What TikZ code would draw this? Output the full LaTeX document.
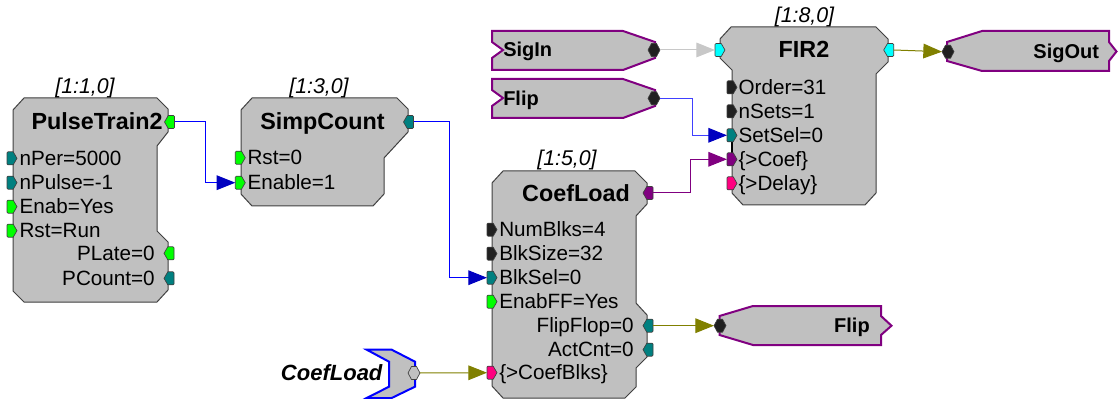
\documentclass[tikz,border=0pt]{standalone}
\usepackage{fontspec}
\setmainfont{Liberation Sans}
\usetikzlibrary{arrows.meta}
\definecolor{blockgray}{HTML}{C0C0C0}
\definecolor{edgec}{HTML}{404040}
\definecolor{pgreen}{HTML}{00FF00}
\definecolor{pteal}{HTML}{008080}
\definecolor{pblack}{HTML}{202020}
\definecolor{pcyan}{HTML}{00FFFF}
\definecolor{ppurple}{HTML}{800080}
\definecolor{ppink}{HTML}{FF0080}
\definecolor{wblue}{HTML}{0000FF}
\definecolor{ablue}{HTML}{0000C0}
\definecolor{wlblue}{HTML}{4040FF}
\definecolor{wolive}{HTML}{808000}
\definecolor{wgray}{HTML}{C8C8C8}
\tikzset{
 pin/.pic={\draw[pic actions,draw=edgec,line width=0.5pt,line join=miter] (-5,-5.5) -- (-4,-6.5) -- (1.2,-6.5) -- (5,0) -- (1.2,6.5) -- (-4,6.5) -- (-5,5.5) -- cycle;
   \coordinate (-w) at (-5,0); \coordinate (-e) at (5,0);},
 pout/.pic={\draw[pic actions,draw=edgec,line width=0.5pt,line join=miter] (5,-5.5) -- (4,-6.5) -- (-1.2,-6.5) -- (-5,0) -- (-1.2,6.5) -- (4,6.5) -- (5,5.5) -- cycle;
   \coordinate (-w) at (-5,0); \coordinate (-e) at (5,0);},
 pbi/.pic={\draw[pic actions,draw=edgec,line width=0.5pt,line join=miter] (-6,0) -- (-2.5,-6.5) -- (2.5,-6.5) -- (6,0) -- (2.5,6.5) -- (-2.5,6.5) -- cycle;
   \coordinate (-w) at (-6,0); \coordinate (-e) at (6,0);}
}
\begin{document}
\begin{tikzpicture}[x=0.75pt,y=-0.75pt,
 block/.style={fill=blockgray,draw=edgec,line width=0.75pt,line join=miter},
 tagbox/.style={fill=blockgray,draw=ppurple,line width=1.5pt},
 lbl/.style={font=\fontsize{15.5}{18}\selectfont,inner sep=0pt},
 lbll/.style={lbl,anchor=base west},
 lblr/.style={lbl,anchor=base east},
 ttl/.style={font=\fontsize{17.5}{20}\selectfont\bfseries,inner sep=0pt,anchor=base},
 idx/.style={font=\fontsize{16}{19}\selectfont\itshape,inner sep=0pt,anchor=base},
 tagtxt/.style={font=\fontsize{15}{18}\selectfont\bfseries,inner sep=0pt},
 wire/.style={line width=0.75pt},
 tip/.style={-{Triangle[length=14pt,width=11pt,color=#1]}}
]
\useasboundingbox (0,0) rectangle (1118,399);

% ---------------- PulseTrain2
\draw[block] (24,98) -- (157,98) -- (168,109) -- (168,132) -- (157,146) -- (157,231) -- (168,242) -- (168,290) -- (157,302) -- (24,302) -- (13,291) -- (13,110) -- cycle;
\node[idx] (pt-idx) at (85,93.5) {[1:1,0]};
\node[ttl] (pt-title) at (97,130) {PulseTrain2};
\pic[fill=pgreen] (pt-out) at (169.5,122) {pout};
\pic[fill=pteal] (pt-np) at (12,158.3) {pin};
\pic[fill=pteal] (pt-nu) at (12,182.7) {pin};
\pic[fill=pgreen] (pt-en) at (12,206.7) {pin};
\pic[fill=pgreen] (pt-rs) at (12,230.7) {pin};
\node[lbll] (pt-l1) at (19.3,165.3) {nPer=5000};
\node[lbll] (pt-l2) at (19.3,189.7) {nPulse=-1};
\node[lbll] (pt-l3) at (19.3,213.7) {Enab=Yes};
\node[lbll] (pt-l4) at (19.3,237.7) {Rst=Run};
\pic[fill=pgreen] (pt-pl) at (169,253.3) {pout};
\pic[fill=pteal] (pt-pc) at (169,278.3) {pout};
\node[lblr] (pt-l5) at (155,260.3) {PLate=0};
\node[lblr] (pt-l6) at (155,285.3) {PCount=0};

% ---------------- SimpCount
\draw[block] (252,98) -- (397,98) -- (408,109) -- (408,132) -- (384,158) -- (384,194) -- (373,206) -- (252,206) -- (241,194) -- (241,110) -- cycle;
\node[idx] (sc-idx) at (319,93.5) {[1:3,0]};
\node[ttl] (sc-title) at (322.5,130) {SimpCount};
\pic[fill=pteal] (sc-out) at (408.5,122) {pout};
\pic[fill=pgreen] (sc-rs) at (240.3,157.7) {pin};
\pic[fill=pgreen] (sc-en) at (240.3,182.7) {pin};
\node[lbll] (sc-l1) at (247.3,164.7) {Rst=0};
\node[lbll] (sc-l2) at (247.3,189.7) {Enable=1};

% ---------------- CoefLoad
\draw[block] (503,171) -- (635,171) -- (647,183) -- (647,204) -- (636,216) -- (636,303) -- (647,315) -- (647,357) -- (636,368) -- (636,387) -- (625,398) -- (503,398) -- (492,386) -- (492,183) -- cycle;
\node[idx] (cl-idx) at (567,166) {[1:5,0]};
\node[ttl] (cl-title) at (576,201.3) {CoefLoad};
\pic[fill=ppurple] (cl-out) at (648,193) {pout};
\pic[fill=pblack] (cl-nb) at (492,229.7) {pin};
\pic[fill=pblack] (cl-bz) at (492,253.7) {pin};
\pic[fill=pteal] (cl-bs) at (492,277.7) {pin};
\pic[fill=pgreen] (cl-ef) at (492,301.7) {pin};
\pic[fill=ppink] (cl-cb) at (492,372.7) {pin};
\node[lbll] (cl-l1) at (499,236.7) {NumBlks=4};
\node[lbll] (cl-l2) at (499,260.7) {BlkSize=32};
\node[lbll] (cl-l3) at (499,284.7) {BlkSel=0};
\node[lbll] (cl-l4) at (499,308.7) {EnabFF=Yes};
\node[lbll] (cl-l5) at (499,379.7) {\{>CoefBlks\}};
\pic[fill=pteal] (cl-ff) at (648,325.7) {pout};
\pic[fill=pteal] (cl-ac) at (648,349.7) {pout};
\node[lblr] (cl-l6) at (634,332.7) {FlipFlop=0};
\node[lblr] (cl-l7) at (634,356.7) {ActCnt=0};

% ---------------- FIR2
\draw[block] (731,27) -- (876,27) -- (888,39) -- (888,62) -- (876,74) -- (876,193) -- (865,205) -- (743,205) -- (732,193) -- (732,70) -- (720,58) -- (720,39) -- cycle;
\draw[line width=1.5pt,black] (732,142) -- (732,153);
\node[idx] (fir-idx) at (804.5,22.7) {[1:8,0]};
\node[ttl] (fir-title) at (804,58) {FIR2};
\pic[fill=pcyan] (fir-in) at (720,50) {pin};
\pic[fill=pcyan] (fir-out) at (888.7,50) {pout};
\pic[fill=pblack] (fir-or) at (732,87.3) {pin};
\pic[fill=pblack] (fir-ns) at (732,111.3) {pin};
\pic[fill=pteal] (fir-ss) at (732,135.3) {pin};
\pic[fill=ppurple] (fir-co) at (732,159.3) {pin};
\pic[fill=ppink] (fir-de) at (732,183.3) {pin};
\node[lbll] (fir-l1) at (738.3,94.3) {Order=31};
\node[lbll] (fir-l2) at (738.3,118.3) {nSets=1};
\node[lbll] (fir-l3) at (738.3,142.3) {SetSel=0};
\node[lbll] (fir-l4) at (738.3,166.3) {\{>Coef\}};
\node[lbll] (fir-l5) at (738.3,190.3) {\{>Delay\}};

% ---------------- tags
\draw[tagbox] (492,31) -- (623,31) -- (655,42) -- (655,58) -- (623,70) -- (492,70) -- (492,58) -- (503,50) -- (492,42) -- cycle;
\node[tagtxt,anchor=base west] (sigin-t) at (503,57) {SigIn};
\pic[fill=pblack] (sigin) at (654,50) {pbi};

\draw[tagbox] (492,79) -- (623,79) -- (655,90) -- (655,106) -- (623,118) -- (492,118) -- (492,106) -- (503,98) -- (492,90) -- cycle;
\node[tagtxt,anchor=base west] (flipin-t) at (503,105.3) {Flip};
\pic[fill=pblack] (flipin) at (654,98.3) {pbi};

\draw[tagbox] (982,31) -- (1109,31) -- (1109,42) -- (1116.5,51.5) -- (1109,61) -- (1109,71) -- (982,71) -- (947,61) -- (947,42) -- cycle;
\node[tagtxt,anchor=base east] (sigout-t) at (1099.3,58.7) {SigOut};
\pic[fill=pblack] (sigout) at (948,51.7) {pbi};

\draw[tagbox] (753,306) -- (881,306) -- (881,316) -- (891.5,325.7) -- (881,335) -- (881,345) -- (753,345) -- (719.5,335) -- (719.5,316) -- cycle;
\node[tagtxt,anchor=base east] (flipout-t) at (870,332.7) {Flip};
\pic[fill=pblack] (flipout) at (720,325.7) {pbi};

\draw[fill=blockgray,draw=blue,line width=1.5pt] (366.7,349.7) -- (391.7,349.7) -- (415,361.7) -- (415,386.7) -- (391.7,398) -- (366.7,398) -- (389,386.7) -- (389,361.7) -- cycle;
\node[font=\fontsize{16.5}{19}\selectfont\bfseries\itshape,inner sep=0pt,anchor=base east] (cltag-t) at (382.7,380.7) {CoefLoad};
\pic[fill=blockgray] (cltag) at (414,373) {pbi};

% ---------------- connectors
\draw[wire,wblue,tip=ablue] (pt-out-e) -- ++(31,0) |- (sc-en-w);
\draw[wire,wblue,tip=ablue] (sc-out-e) -- ++(36,0) |- (cl-bs-w);
\draw[wire,wlblue,tip=ablue] (flipin-e) -- ++(32,0) |- (fir-ss-w);
\draw[wire,ppurple,tip=ppurple] (cl-out-e) -- ++(37,0) |- (fir-co-w);
\draw[wire,wgray,tip=wgray] (sigin-e) -- (fir-in-w);
\draw[wire,wolive,tip=wolive] (fir-out-e) -- (sigout-w);
\draw[wire,wolive,tip=wolive] (cl-ff-e) -- (flipout-w);
\draw[wire,wolive,tip=wolive] (cltag-e) -- (cl-cb-w);
\end{tikzpicture}
\end{document}
